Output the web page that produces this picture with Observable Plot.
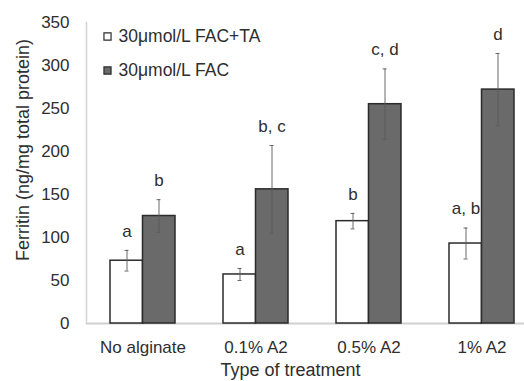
<!DOCTYPE html>
<html>
<head>
<meta charset="utf-8">
<script src="https://cdn.jsdelivr.net/npm/d3@7"></script>
<script src="https://cdn.jsdelivr.net/npm/@observablehq/plot@0.6"></script>
<style>
  html, body { margin: 0; padding: 0; background: #fff; }
  #chart svg { display: block; }
</style>
</head>
<body>
<div id="chart"></div>
<script>
// ---- Data ----
const categories = ["No alginate", "0.1% A2", "0.5% A2", "1% A2"];
const series = ["30μmol/L FAC+TA", "30μmol/L FAC"];
const meanTA = [73, 57, 119, 93];
const sdTA = [12, 7, 9, 18];
const lettersTA = ["a", "a", "b", "a, b"];
const meanFAC = [125, 156, 255, 272];
const sdFAC = [19, 51, 41, 42];
const lettersFAC = ["b", "b, c", "c, d", "d"];
const yTicks = [0, 50, 100, 150, 200, 250, 300, 350];
const xTitle = "Type of treatment";
const yTitle = "Ferritin (ng/mg total protein)";

const rowsTA = categories.map((c, i) => ({category: c, mean: meanTA[i], lo: meanTA[i] - sdTA[i], hi: meanTA[i] + sdTA[i], letter: lettersTA[i]}));
const rowsFAC = categories.map((c, i) => ({category: c, mean: meanFAC[i], lo: meanFAC[i] - sdFAC[i], hi: meanFAC[i] + sdFAC[i], letter: lettersFAC[i]}));

const font = "'Liberation Sans', Arial, Helvetica, sans-serif";
const textColor = "#2e2e2e";
const barStroke = "#2b2b2b";
const darkFill = "#6a6a6a";
const errColor = "#5a5a5a";

const chart = Plot.plot({
  width: 524,
  height: 381,
  marginLeft: 86,
  marginRight: 0,
  marginTop: 22,
  marginBottom: 58,
  style: {fontFamily: font, fontSize: "17px", color: textColor, background: "#fff"},
  x: {domain: categories, range: [85.5, 537.5], padding: 0},
  y: {domain: [0, 350]},
  marks: [
    Plot.frame({anchor: "left", stroke: "#d4d4d4", strokeWidth: 1.5}),
    Plot.ruleY([0], {stroke: "#cfcfcf", strokeWidth: 2}),
    // bars
    Plot.barY(rowsTA, {x: "category", y: "mean", fill: "#fff", stroke: barStroke, strokeWidth: 1.5, insetLeft: 24, insetRight: 56.5}),
    Plot.barY(rowsFAC, {x: "category", y: "mean", fill: darkFill, stroke: barStroke, strokeWidth: 1.5, insetLeft: 56.5, insetRight: 24}),
    // error bars
    Plot.ruleX(rowsTA, {x: "category", y1: "lo", y2: "hi", dx: -16, stroke: errColor, strokeWidth: 0.9}),
    Plot.ruleX(rowsFAC, {x: "category", y1: "lo", y2: "hi", dx: 16, stroke: errColor, strokeWidth: 0.9}),
    Plot.tickY(rowsTA, {x: "category", y: "hi", insetLeft: 38.5, insetRight: 70.5, stroke: errColor, strokeWidth: 0.9}),
    Plot.tickY(rowsTA, {x: "category", y: "lo", insetLeft: 38.5, insetRight: 70.5, stroke: errColor, strokeWidth: 0.9}),
    Plot.tickY(rowsFAC, {x: "category", y: "hi", insetLeft: 70.5, insetRight: 38.5, stroke: errColor, strokeWidth: 0.9}),
    Plot.tickY(rowsFAC, {x: "category", y: "lo", insetLeft: 70.5, insetRight: 38.5, stroke: errColor, strokeWidth: 0.9}),
    // significance letters
    Plot.text(rowsTA, {x: "category", y: "hi", text: "letter", dx: -16, dy: -19, fill: textColor}),
    Plot.text(rowsFAC, {x: "category", y: "hi", text: "letter", dx: 16, dy: -19, fill: textColor}),
    // axes
    Plot.axisY({ticks: yTicks, tickSize: 0, tickPadding: 17, label: null, fill: textColor}),
    Plot.axisX({tickSize: 0, tickPadding: 17, label: null, fill: textColor}),
    // axis titles
    Plot.text([yTitle], {frameAnchor: "left", textAnchor: "middle", lineAnchor: "middle", rotate: -90, dx: -63, dy: -23, fontSize: 18, fill: textColor}),
    Plot.text([xTitle], {frameAnchor: "bottom", textAnchor: "middle", lineAnchor: "middle", dx: -15, dy: 47, fontSize: 18, fill: textColor}),
    // legend
    Plot.dot([series[0]], {frameAnchor: "top-left", dx: 21, dy: 14, symbol: "square", r: 4, fill: "#fff", stroke: barStroke, strokeWidth: 1.2}),
    Plot.dot([series[1]], {frameAnchor: "top-left", dx: 21, dy: 48, symbol: "square", r: 4, fill: darkFill, stroke: barStroke, strokeWidth: 1.2}),
    Plot.text([series[0]], {frameAnchor: "top-left", textAnchor: "start", lineAnchor: "middle", dx: 32, dy: 14, fontSize: 17.5, fill: textColor}),
    Plot.text([series[1]], {frameAnchor: "top-left", textAnchor: "start", lineAnchor: "middle", dx: 32, dy: 48, fontSize: 17.5, fill: textColor})
  ]
});
document.getElementById("chart").appendChild(chart);
</script>
</body>
</html>
